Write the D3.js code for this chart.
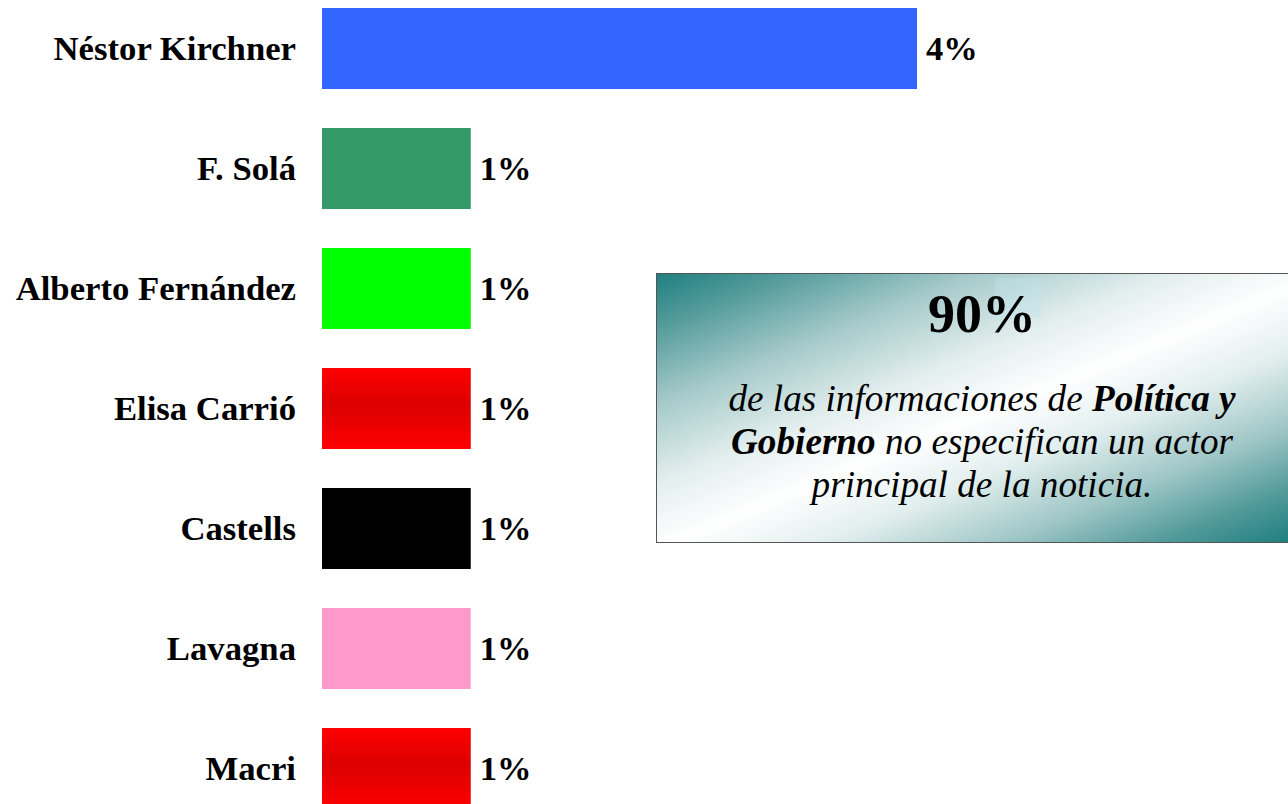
<!DOCTYPE html>
<html>
<head>
<meta charset="utf-8">
<script src="https://cdn.jsdelivr.net/npm/d3@7"></script>
<style>
  html, body { margin: 0; padding: 0; background: #ffffff; }
  svg { display: block; }
</style>
</head>
<body>
<script>
const actors = ["Néstor Kirchner", "F. Solá", "Alberto Fernández", "Elisa Carrió", "Castells", "Lavagna", "Macri"];
const shares = [4, 1, 1, 1, 1, 1, 1];
const valueLabels = ["4%", "1%", "1%", "1%", "1%", "1%", "1%"];
const barFills = ["#3366ff", "#339966", "#00ff00", "url(#redGrad)", "#000000", "#ff99cc", "url(#redGrad)"];
const calloutFigure = "90%";

const W = 1288, H = 804;
const svg = d3.select("body").append("svg").attr("width", W).attr("height", H);
const defs = svg.append("defs");

const rg = defs.append("linearGradient").attr("id", "redGrad")
  .attr("x1", 0).attr("y1", 0).attr("x2", 0).attr("y2", 1);
rg.append("stop").attr("offset", "0%").attr("stop-color", "#ff0000");
rg.append("stop").attr("offset", "45%").attr("stop-color", "#dc0000");
rg.append("stop").attr("offset", "100%").attr("stop-color", "#ff0000");

const tg = defs.append("linearGradient").attr("id", "tealGrad")
  .attr("gradientUnits", "userSpaceOnUse")
  .attr("x1", 559).attr("y1", 313).attr("x2", 745).attr("y2", 766);
[[0, "#1f7f7f"], [0.1, "#529a9a"], [0.25, "#a6caca"], [0.4, "#e3eeee"], [0.52, "#ffffff"],
 [0.64, "#e2eeee"], [0.78, "#9fc6c6"], [0.9, "#529a9a"], [1, "#1f7f7f"]].forEach(([o, c]) => {
  tg.append("stop").attr("offset", o).attr("stop-color", c);
});

const x = d3.scaleLinear().domain([0, 4]).range([322, 917]);
const y = d3.scaleBand().domain(actors).range([8, 809]).paddingInner(0.325).paddingOuter(0);

const font = "'Liberation Serif', 'Times New Roman', Times, serif";

const g = svg.append("g");
g.selectAll("rect.bar").data(actors).join("rect")
  .attr("class", "bar")
  .attr("x", x(0))
  .attr("y", d => y(d))
  .attr("width", (d, i) => x(shares[i]) - x(0))
  .attr("height", y.bandwidth())
  .attr("fill", (d, i) => barFills[i]);

g.selectAll("text.name").data(actors).join("text")
  .attr("class", "name")
  .attr("x", x(0) - 26)
  .attr("y", d => y(d) + y.bandwidth() / 2 + 11)
  .attr("text-anchor", "end")
  .attr("font-family", font)
  .attr("font-weight", "bold")
  .attr("font-size", "34.7px")
  .attr("fill", "#000")
  .text(d => d);

g.selectAll("text.val").data(actors).join("text")
  .attr("class", "val")
  .attr("x", (d, i) => x(shares[i]) + 9)
  .attr("y", d => y(d) + y.bandwidth() / 2 + 11)
  .attr("font-family", font)
  .attr("font-weight", "bold")
  .attr("font-size", "34.5px")
  .attr("fill", "#000")
  .text((d, i) => valueLabels[i]);

// Callout box
const box = svg.append("g");
box.append("rect")
  .attr("x", 656.5).attr("y", 273.5)
  .attr("width", 660).attr("height", 269)
  .attr("fill", "url(#tealGrad)")
  .attr("stroke", "#555555").attr("stroke-width", 1);

box.append("rect")
  .attr("x", 995).attr("y", 278).attr("width", 46).attr("height", 40)
  .attr("fill", "#bfe6f2").attr("opacity", 0.35);

const cx = 982;
box.append("text")
  .attr("x", cx).attr("y", 332)
  .attr("text-anchor", "middle")
  .attr("font-family", font).attr("font-weight", "bold")
  .attr("font-size", "54px").attr("fill", "#000")
  .text(calloutFigure);

const lines = [
  [["de las informaciones de ", false], ["Política y", true]],
  [["Gobierno", true], [" no especifican un actor", false]],
  [["principal de la noticia.", false]]
];
lines.forEach((parts, li) => {
  const t = box.append("text")
    .attr("x", cx).attr("y", 411 + li * 43)
    .attr("text-anchor", "middle")
    .attr("font-family", font).attr("font-style", "italic")
    .attr("font-size", "37.2px").attr("fill", "#000");
  parts.forEach(([s, b]) => {
    t.append("tspan").attr("font-weight", b ? "bold" : "normal").text(s);
  });
});
</script>
</body>
</html>
